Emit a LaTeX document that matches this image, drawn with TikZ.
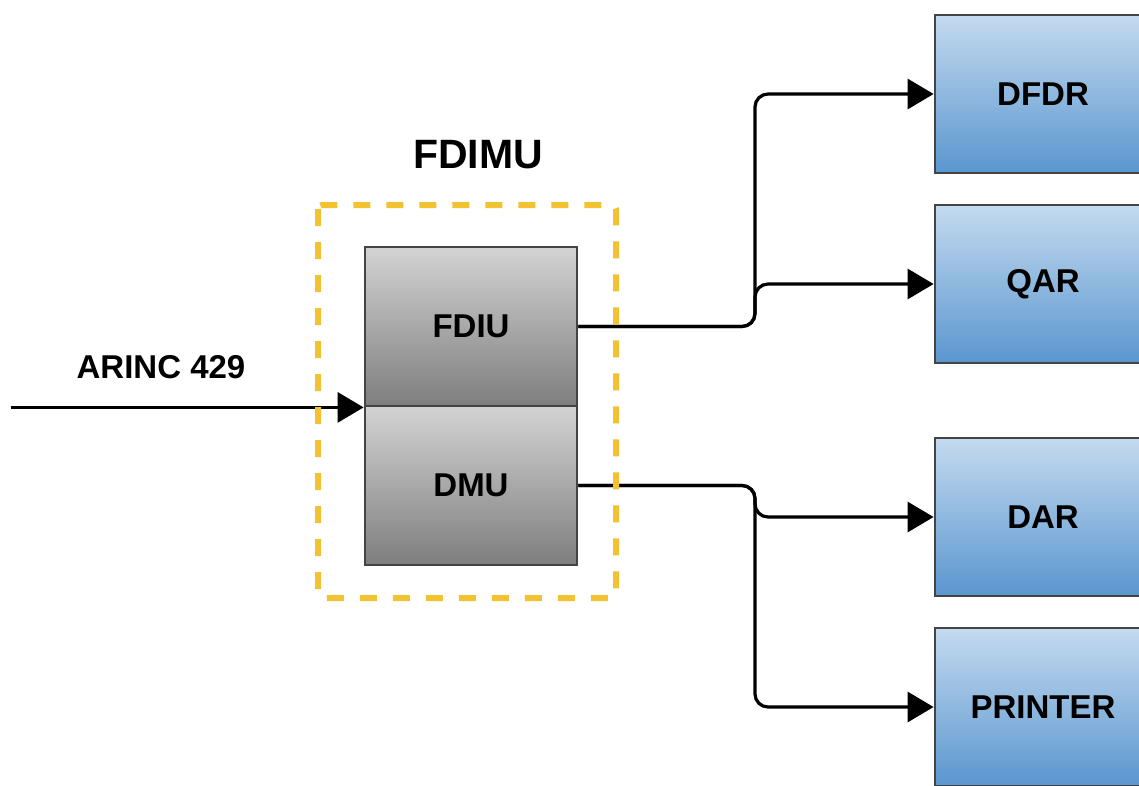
\documentclass[tikz,border=0pt]{standalone}
\usepackage{fontspec}
\setmainfont{Liberation Sans}
\usetikzlibrary{arrows.meta}
\definecolor{unittop}{HTML}{C4DAEF}
\definecolor{unitbot}{HTML}{5A96CF}
\definecolor{modtop}{HTML}{D3D3D3}
\definecolor{modbot}{HTML}{7E7E7E}
\definecolor{edgegray}{HTML}{444444}
\definecolor{groupyellow}{HTML}{F2C230}
\begin{document}
\begin{tikzpicture}[x=1pt, y=-1pt,
	font=\fontsize{33}{40}\selectfont\bfseries,
	wire/.style={line width=3.2pt, rounded corners=13pt, -{Triangle[length=26pt,width=30pt]}},
	modbox/.style={draw=edgegray, line width=2.8pt, top color=modtop, bottom color=modbot, minimum width=212pt, minimum height=159pt, inner sep=0pt},
	unitbox/.style={draw=edgegray, line width=2.8pt, top color=unittop, bottom color=unitbot, minimum width=216pt, minimum height=158pt, inner sep=0pt},
	groupbox/.style={draw=groupyellow, line width=6pt, dash pattern=on 17pt off 16pt, rounded corners=4pt}]
		\clip (0,0) rectangle (1139,785);
		% FDIMU
		\node[modbox] (fdiu) at (471,326.5) {FDIU};
		\node[modbox] (dmu) at (471,485.5) {DMU};
		\node (fdimu) at (478,155) {\fontsize{41}{48}\selectfont FDIMU};
		% recorders
		\node[unitbox] (dfdr) at (1043,94) {DFDR};
		\node[unitbox] (qar) at (1043,284) {QAR};
		\node[unitbox] (dar) at (1043,517) {DAR};
		\node[unitbox] (printer) at (1043,707) {PRINTER};
		% input
		\coordinate (src) at ([xshift=-353pt]fdiu.south west);
		\node (arinc) at (161,367) {ARINC 429};
		\draw[wire] (src) -- (fdiu.south west);
		% outputs
		\draw[wire] (fdiu.east) -| (755,94) -- (dfdr.west);
		\draw[wire] (fdiu.east) -| (755,284) -- (qar.west);
		\draw[wire] (dmu.east) -| (755,517) -- (dar.west);
		\draw[wire] (dmu.east) -| (755,707) -- (printer.west);
		\draw[groupbox] (318,205) rectangle (616,598);
\end{tikzpicture}
\end{document}
